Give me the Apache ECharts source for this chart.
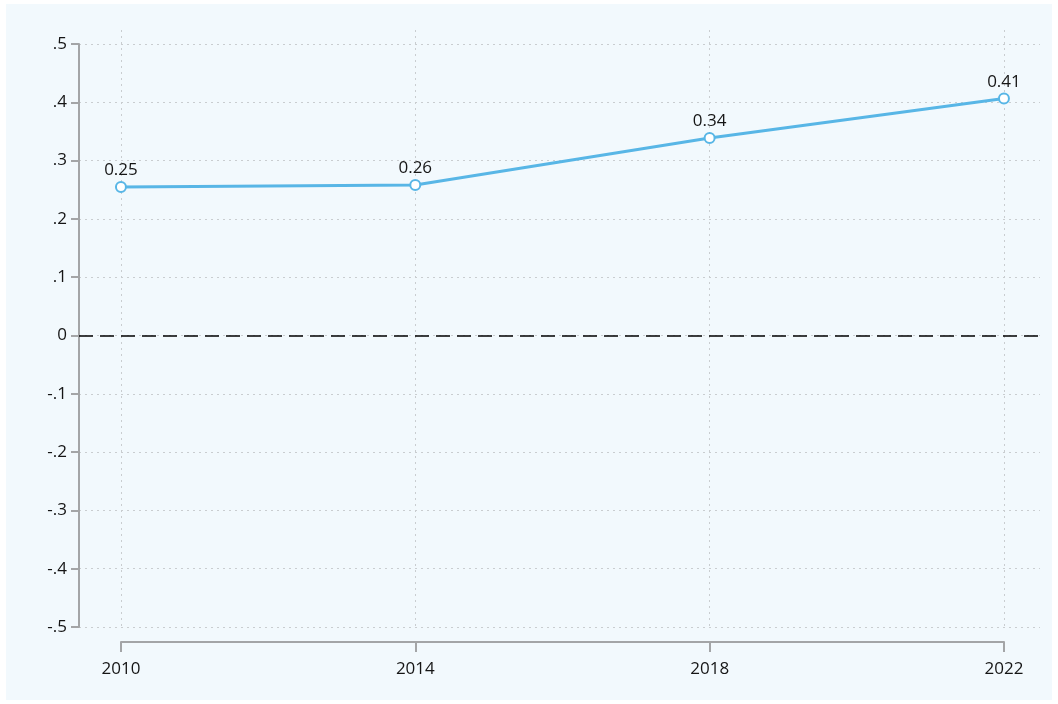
<!DOCTYPE html>
<html>
<head>
<meta charset="utf-8">
<script src="https://cdn.jsdelivr.net/npm/echarts@6/dist/echarts.min.js"></script>
<style>
  html, body { margin: 0; padding: 0; background: #fff; }
  #chart { width: 1058px; height: 704px; }
</style>
</head>
<body>
<div id="chart"></div>
<script>
// 数据
const years = [2010, 2014, 2018, 2022];
const values = [0.2547, 0.258, 0.3388, 0.4065];
const yTickLabels = ['-.5', '-.4', '-.3', '-.2', '-.1', '0', '.1', '.2', '.3', '.4', '.5'];

(function () {
  const myChart = echarts.init(document.getElementById('chart'));
  const lineColor = '#58b6e6';
  const gridLine = { color: '#c9cdd0', width: 1, type: [2, 4] };
  const font = '"Open Sans", "Noto Sans", sans-serif';
  const textColor = '#151515';

  let option = {
    backgroundColor: '#fff',
    animation: false,
    // 浅蓝色背景面板
    graphic: [{
      type: 'rect',
      shape: { x: 6, y: 4, width: 1046, height: 696 },
      style: { fill: '#f2f9fd' },
      z: -10
    }],
    grid: [
      // 主绘图区 (y轴 + 折线)
      { left: 79, right: 18, top: 44, bottom: 77, containLabel: false, outerBoundsMode: 'none' },
      // 竖向网格线
      { left: 121, right: 54, top: 30, bottom: 77, containLabel: false, outerBoundsMode: 'none' },
      // 底部x轴
      { left: 121, right: 54, top: 641, bottom: 62, containLabel: false, outerBoundsMode: 'none' }
    ],
    xAxis: [
      {
        gridIndex: 0, type: 'value',
        min: 2009.43, max: 2022.49,
        show: false
      },
      {
        gridIndex: 1, type: 'value',
        min: 2010, max: 2022, interval: 4,
        axisLine: { show: false },
        axisTick: { show: false },
        axisLabel: { show: false },
        splitLine: { show: true, lineStyle: gridLine }
      },
      {
        gridIndex: 2, type: 'value', position: 'bottom',
        min: 2010, max: 2022, interval: 4,
        axisLine: { show: true, onZero: false, lineStyle: { color: '#a3a5a7', width: 2 } },
        axisTick: { show: true, inside: false, length: 10, lineStyle: { color: '#a3a5a7', width: 2 } },
        axisLabel: {
          color: textColor, fontSize: 17, fontFamily: font, margin: 19,
          formatter: function (v) {
            return String(v);
          }
        },
        splitLine: { show: false }
      }
    ],
    yAxis: [
      {
        gridIndex: 0, type: 'value',
        min: -0.5, max: 0.5, interval: 0.1,
        axisLine: { show: true, lineStyle: { color: '#a3a5a7', width: 2 } },
        axisTick: { show: true, inside: false, length: 8, lineStyle: { color: '#a3a5a7', width: 2 } },
        axisLabel: {
          color: textColor, fontSize: 17, fontFamily: font, margin: 12,
          formatter: function (v) {
            return yTickLabels[Math.round((v + 0.5) * 10)];
          }
        },
        splitLine: { show: true, lineStyle: gridLine }
      },
      { gridIndex: 1, type: 'value', min: 0, max: 1, show: false },
      { gridIndex: 2, type: 'value', min: 0, max: 1, show: false }
    ],
    series: [{
      type: 'line',
      xAxisIndex: 0,
      yAxisIndex: 0,
      data: years.map((y, i) => [y, values[i]]),
      lineStyle: { color: lineColor, width: 3 },
      symbol: 'circle',
      symbolSize: 10,
      itemStyle: { color: '#fff', borderColor: lineColor, borderWidth: 2 },
      label: {
        show: true,
        position: 'top',
        distance: 2,
        color: textColor,
        fontSize: 17,
        fontFamily: font,
        formatter: function (p) {
          return p.value[1].toFixed(2);
        }
      },
      markLine: {
        silent: true,
        symbol: ['none', 'none'],
        label: { show: false },
        lineStyle: { color: '#000', width: 1.6, type: [14, 7] },
        data: [{ yAxis: 0 }]
      },
      z: 5
    }]
  };
  myChart.setOption(option);
  window.addEventListener('resize', function () {
    myChart.resize();
  });
})();
</script>
</body>
</html>
